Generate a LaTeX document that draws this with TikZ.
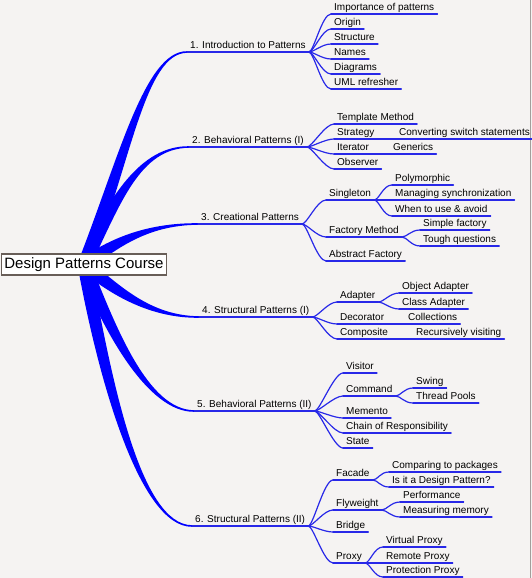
\documentclass[tikz,border=0pt]{standalone}
\usepackage{fontspec}
\setmainfont{Liberation Sans}
\usetikzlibrary{calc}

\definecolor{paper}{RGB}{245,243,242}
\definecolor{twigblue}{RGB}{40,40,232}
\definecolor{trunkblue}{RGB}{0,0,255}
\definecolor{rootframe}{RGB}{104,94,88}

\tikzset{
  topic/.style={anchor=south west, inner xsep=3pt, inner ysep=1pt, text height=7.5pt, text depth=2.5pt, font=\fontsize{10}{12}\selectfont},
  twig/.style={draw=twigblue, line width=1.2pt, line cap=round},
  trunk/.style={fill=trunkblue},
  rootbox/.style={draw=rootframe, line width=1.1pt, fill=white, inner xsep=3pt, inner ysep=0pt, minimum height=21pt, font=\fontsize{15}{18}\selectfont}
}

% thick tapered branch: start, control 1, control 2, end
\newcommand\trunkbranch[4]{%
  \fill[trunk] let \p1=($(#1)!6.5pt!90:(#2)$), \p2=($(#1)!6.5pt!-90:(#2)$) in
    (\p1) .. controls ($(#2)+(\p1)-(#1)$) and ($(#3)+(0,-1.2)$) .. ($(#4)+(0,-0.8)$)
    -- ($(#4)+(0,0.8)$) .. controls ($(#3)+(0,1.2)$) and ($(#2)+(\p2)-(#1)$) .. (\p2) -- cycle;
}

\begin{document}
\begin{tikzpicture}[x=1pt, y=-1pt]
    \useasboundingbox (0,0) rectangle (532,578);
    \fill[paper] (0,0) rectangle (532,578);
    \draw[rootframe!60, line width=1pt] (530.5,0) -- (530.5,578);

    \coordinate (hub) at (84,264.5);

    \node[topic] (intro) at (187,52) {1. Introduction to Patterns};
    \node[topic] (importance) at (331,14) {Importance of patterns};
    \node[topic] (origin) at (331,29) {Origin};
    \node[topic] (structure) at (331,44) {Structure};
    \node[topic] (names) at (331,59) {Names};
    \node[topic] (diagrams) at (331,74) {Diagrams};
    \node[topic] (uml) at (331,89) {UML refresher};

    \node[topic] (behone) at (189,147) {2. Behavioral Patterns (I)};
    \node[topic] (template) at (334,124) {Template Method};
    \node[topic] (strategy) at (334,139) {Strategy};
    \node[topic] (converting) at (396,139) {Converting switch statements};
    \node[topic] (iterator) at (334,154) {Iterator};
    \node[topic] (generics) at (390,154) {Generics};
    \node[topic] (observer) at (334,169) {Observer};

    \node[topic] (creational) at (198,224) {3. Creational Patterns};
    \node[topic] (singleton) at (326,200) {Singleton};
    \node[topic] (polymorphic) at (392,185) {Polymorphic};
    \node[topic] (managing) at (392,200) {Managing synchronization};
    \node[topic] (whentouse) at (392,216) {When to use \& avoid};
    \node[topic] (factory) at (326,237) {Factory Method};
    \node[topic] (simplefactory) at (420,230) {Simple factory};
    \node[topic] (tough) at (420,246) {Tough questions};
    \node[topic] (abstract) at (326,261) {Abstract Factory};

    \node[topic] (structone) at (199,317) {4. Structural Patterns (I)};
    \node[topic] (adapter) at (337,302) {Adapter};
    \node[topic] (objadapter) at (399,293) {Object Adapter};
    \node[topic] (classadapter) at (399,309) {Class Adapter};
    \node[topic] (decorator) at (337,324) {Decorator};
    \node[topic] (collections) at (405,324) {Collections};
    \node[topic] (composite) at (337,339) {Composite};
    \node[topic] (recursive) at (413,339) {Recursively visiting};

    \node[topic] (behtwo) at (194,411) {5. Behavioral Patterns (II)};
    \node[topic] (visitor) at (343,373) {Visitor};
    \node[topic] (command) at (343,396) {Command};
    \node[topic] (swing) at (413,388) {Swing};
    \node[topic] (threadpools) at (413,403) {Thread Pools};
    \node[topic] (memento) at (343,418) {Memento};
    \node[topic] (chain) at (343,433) {Chain of Responsibility};
    \node[topic] (state) at (343,448) {State};

    \node[topic] (structtwo) at (192,526) {6. Structural Patterns (II)};
    \node[topic] (facade) at (333,480) {Facade};
    \node[topic] (comparing) at (389,472) {Comparing to packages};
    \node[topic] (designpattern) at (389,487) {Is it a Design Pattern?};
    \node[topic] (flyweight) at (333,510) {Flyweight};
    \node[topic] (performance) at (400,502) {Performance};
    \node[topic] (measuring) at (400,517) {Measuring memory};
    \node[topic] (bridge) at (333,532) {Bridge};
    \node[topic] (proxy) at (333,563) {Proxy};
    \node[topic] (virtualproxy) at (383,547) {Virtual Proxy};
    \node[topic] (remoteproxy) at (383,563) {Remote Proxy};
    \node[topic] (protection) at (383,577) {Protection Proxy};

    \trunkbranch{hub}{125,160}{145,52}{intro.south west}
    \trunkbranch{hub}{115,200}{140,147}{behone.south west}
    \trunkbranch{hub}{112,245}{145,224}{creational.south west}
    \trunkbranch{hub}{115,290}{150,317}{structone.south west}
    \trunkbranch{hub}{110,330}{148,411}{behtwo.south west}
    \trunkbranch{hub}{105,380}{140,526}{structtwo.south west}

    \node[rootbox] (root) at (hub) {Design Patterns Course};

    \foreach \pa/\ch in {intro/importance, intro/origin, intro/structure, intro/names, intro/diagrams, intro/uml,
        behone/template, behone/strategy, behone/iterator, behone/observer, strategy/converting, iterator/generics,
        creational/singleton, creational/factory, creational/abstract, singleton/polymorphic, singleton/managing,
        singleton/whentouse, factory/simplefactory, factory/tough,
        structone/adapter, structone/decorator, structone/composite, adapter/objadapter, adapter/classadapter,
        decorator/collections, composite/recursive,
        behtwo/visitor, behtwo/command, behtwo/memento, behtwo/chain, behtwo/state, command/swing, command/threadpools,
        structtwo/facade, structtwo/flyweight, structtwo/bridge, structtwo/proxy, facade/comparing, facade/designpattern,
        flyweight/performance, flyweight/measuring, proxy/virtualproxy, proxy/remoteproxy, proxy/protection}
        \draw[twig] (\pa.south east) .. controls +(5,0) and +(-9,0) .. (\ch.south west);

    % underlines
    \foreach \n in {intro, importance, origin, structure, names, diagrams, uml,
        behone, template, strategy, converting, iterator, generics, observer,
        creational, singleton, polymorphic, managing, whentouse, factory, simplefactory, tough, abstract,
        structone, adapter, objadapter, classadapter, decorator, collections, composite, recursive,
        behtwo, visitor, command, swing, threadpools, memento, chain, state,
        structtwo, facade, comparing, designpattern, flyweight, performance, measuring, bridge, proxy,
        virtualproxy, remoteproxy, protection}
        \draw[twig] (\n.south west) -- (\n.south east);
\end{tikzpicture}
\end{document}
